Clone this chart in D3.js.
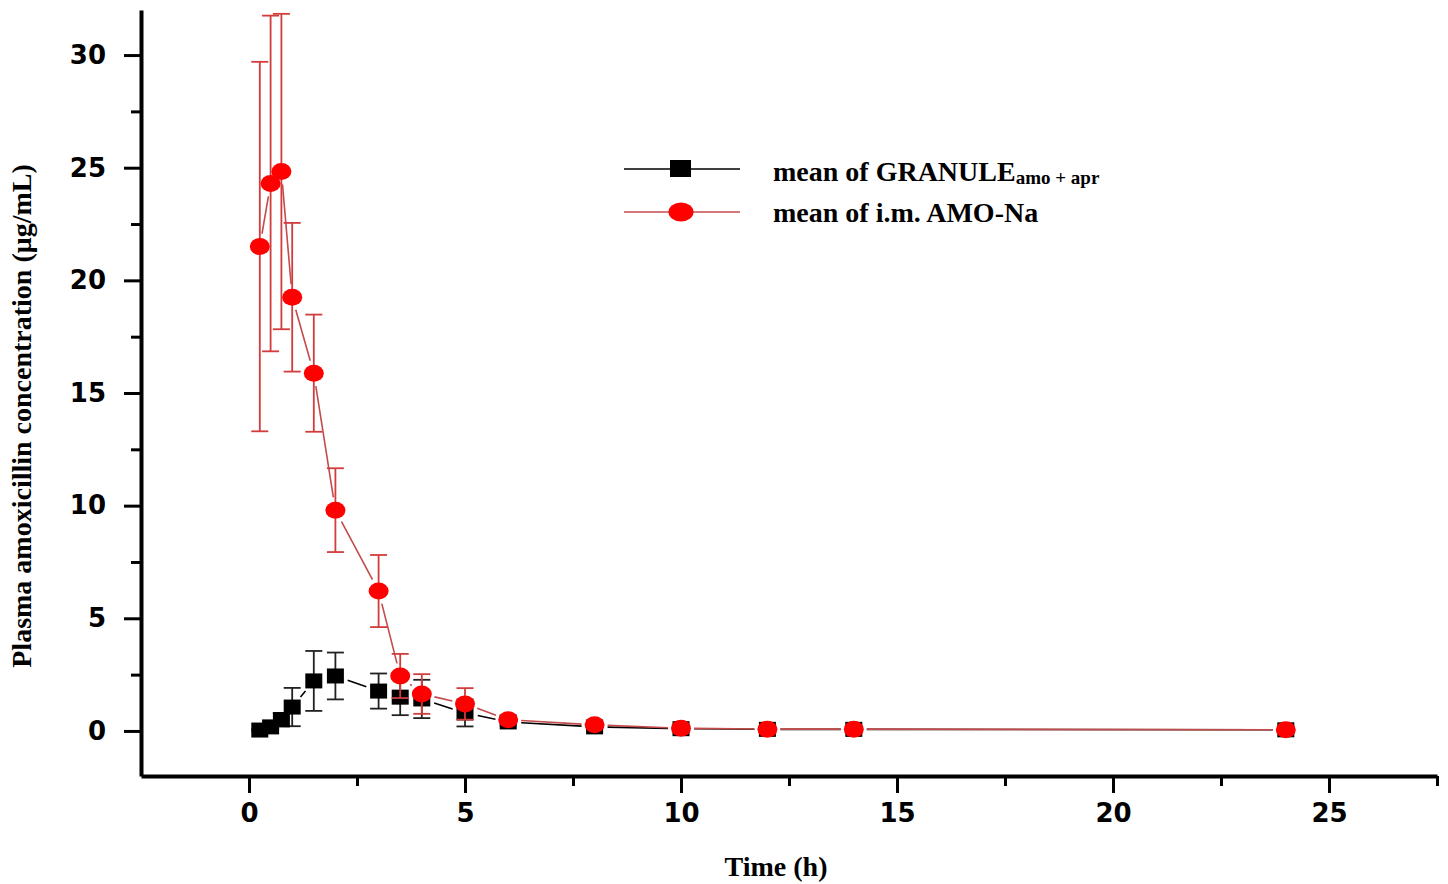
<!DOCTYPE html>
<html>
<head>
<meta charset="utf-8">
<script src="https://cdn.jsdelivr.net/npm/d3@7"></script>
<style>
  body { margin: 0; background: #fff; }
  svg { display: block; }
</style>
</head>
<body>
<div id="chart"></div>
<script>
// sampling times (h)
const times = [0.25, 0.5, 0.75, 1, 1.5, 2, 3, 3.5, 4, 5, 6, 8, 10, 12, 14, 24];

// mean of GRANULE amo + apr
const granuleMean = [0.04, 0.18, 0.5, 1.06, 2.22, 2.44, 1.77, 1.5, 1.42, 0.8, 0.4, 0.18, 0.1, 0.07, 0.07, 0.05];
const granuleSd = [0.05, 0.1, 0.3, 0.85, 1.33, 1.04, 0.78, 0.8, 0.85, 0.6, 0.15, 0.1, 0.05, 0.03, 0.03, 0.03];

// mean of i.m. AMO-Na
const amoMean = [21.5, 24.3, 24.83, 19.25, 15.88, 9.8, 6.21, 2.44, 1.64, 1.2, 0.5, 0.27, 0.12, 0.08, 0.08, 0.05];
const amoSd = [8.2, 7.45, 7.0, 3.3, 2.6, 1.86, 1.6, 0.98, 0.88, 0.7, 0.12, 0.08, 0.05, 0.03, 0.03, 0.03];

const xMajor = [0, 5, 10, 15, 20, 25];
const xMinor = [2.5, 7.5, 12.5, 17.5, 22.5, 27.5];
const yMajor = [0, 5, 10, 15, 20, 25, 30];
const yMinor = [2.5, 7.5, 12.5, 17.5, 22.5, 27.5];

const width = 1448;
const height = 884;

const x = d3.scaleLinear().domain([-2.5, 27.5]).range([141, 1437]);
const y = d3.scaleLinear().domain([-2, 32]).range([776, 10]);

const svg = d3.select('#chart')
  .append('svg')
  .attr('width', width)
  .attr('height', height);

const tickFont = '"DejaVu Sans", sans-serif';
const serif = '"Liberation Serif", "Times New Roman", serif';

// axes
svg.append('g')
  .attr('transform', `translate(0,${y(-2)})`)
  .call(d3.axisBottom(x).tickValues(xMajor).tickSize(17).tickPadding(11).tickSizeOuter(0));
svg.append('g')
  .attr('transform', `translate(0,${y(-2)})`)
  .call(d3.axisBottom(x).tickValues(xMinor).tickSize(10).tickFormat('').tickSizeOuter(0))
  .select('.domain').remove();

svg.append('g')
  .attr('transform', `translate(${x(-2.5)},0)`)
  .call(d3.axisLeft(y).tickValues(yMajor).tickSize(17).tickPadding(18).tickSizeOuter(0));
svg.append('g')
  .attr('transform', `translate(${x(-2.5)},0)`)
  .call(d3.axisLeft(y).tickValues(yMinor).tickSize(10).tickFormat('').tickSizeOuter(0))
  .select('.domain').remove();

svg.selectAll('.domain').attr('stroke', '#000').attr('stroke-width', 4);
svg.selectAll('.tick line').attr('stroke', '#000').attr('stroke-width', 3);
svg.selectAll('.tick text')
  .attr('fill', '#000')
  .style('font-family', tickFont)
  .style('font-weight', 'bold')
  .style('font-size', '26px');

// axis titles
svg.append('text')
  .attr('x', 776)
  .attr('y', 876)
  .attr('text-anchor', 'middle')
  .style('font-family', serif)
  .style('font-weight', 'bold')
  .style('font-size', '28px')
  .text('Time (h)');

svg.append('text')
  .attr('transform', 'translate(31,416) rotate(-90)')
  .attr('text-anchor', 'middle')
  .style('font-family', serif)
  .style('font-weight', 'bold')
  .style('font-size', '28px')
  .text('Plasma amoxicillin concentration (μg/mL)');

// line segments that stop short of the symbols
function gappedPath(xs, ys, gap) {
  let d = '';
  for (let i = 0; i < xs.length - 1; i++) {
    const x0 = x(xs[i]), y0 = y(ys[i]);
    const x1 = x(xs[i + 1]), y1 = y(ys[i + 1]);
    const dx = x1 - x0, dy = y1 - y0;
    const dist = Math.sqrt(dx * dx + dy * dy);
    if (dist <= 2 * gap) continue;
    const nx = dx / dist, ny = dy / dist;
    d += `M${x0 + nx * gap},${y0 + ny * gap}L${x1 - nx * gap},${y1 - ny * gap}`;
  }
  return d;
}

function drawSeries(means, sds, opts) {
  const g = svg.append('g');
  g.append('path')
    .attr('d', gappedPath(times, means, 13))
    .attr('fill', 'none')
    .attr('stroke', opts.line)
    .attr('stroke-width', 1.6);

  const capW = 8.5;
  const err = g.append('g')
    .attr('stroke', opts.err)
    .attr('stroke-width', 1.8)
    .selectAll('g')
    .data(times.map((t, i) => ({ t, m: means[i], s: sds[i] })))
    .join('g');
  err.append('line')
    .attr('x1', (d) => x(d.t)).attr('x2', (d) => x(d.t))
    .attr('y1', (d) => y(d.m - d.s)).attr('y2', (d) => y(d.m + d.s));
  err.append('line')
    .attr('x1', (d) => x(d.t) - capW).attr('x2', (d) => x(d.t) + capW)
    .attr('y1', (d) => y(d.m + d.s)).attr('y2', (d) => y(d.m + d.s));
  err.append('line')
    .attr('x1', (d) => x(d.t) - capW).attr('x2', (d) => x(d.t) + capW)
    .attr('y1', (d) => y(d.m - d.s)).attr('y2', (d) => y(d.m - d.s));

  const pts = times.map((t, i) => ({ t, m: means[i] }));
  if (opts.shape === 'square') {
    g.append('g').selectAll('rect')
      .data(pts)
      .join('rect')
      .attr('x', (d) => x(d.t) - 8.5)
      .attr('y', (d) => y(d.m) - 7.5)
      .attr('width', 17)
      .attr('height', 15)
      .attr('fill', opts.fill);
  } else {
    g.append('g').selectAll('ellipse')
      .data(pts)
      .join('ellipse')
      .attr('cx', (d) => x(d.t))
      .attr('cy', (d) => y(d.m))
      .attr('rx', 10)
      .attr('ry', 8.5)
      .attr('fill', opts.fill);
  }
}

drawSeries(granuleMean, granuleSd, { line: '#000', err: '#222', fill: '#000', shape: 'square' });
drawSeries(amoMean, amoSd, { line: '#c44b4b', err: '#d23c3c', fill: '#ff0000', shape: 'circle' });

// legend
const legend = svg.append('g');
legend.append('line')
  .attr('x1', 624).attr('x2', 740).attr('y1', 169).attr('y2', 169)
  .attr('stroke', '#000').attr('stroke-width', 1.6);
legend.append('rect')
  .attr('x', 670).attr('y', 160).attr('width', 21).attr('height', 17)
  .attr('fill', '#000');
legend.append('line')
  .attr('x1', 624).attr('x2', 740).attr('y1', 212).attr('y2', 212)
  .attr('stroke', '#c44b4b').attr('stroke-width', 1.6);
legend.append('ellipse')
  .attr('cx', 681).attr('cy', 212).attr('rx', 12.5).attr('ry', 9.5)
  .attr('fill', '#ff0000');

const label1 = legend.append('text')
  .attr('x', 773).attr('y', 181)
  .style('font-family', serif)
  .style('font-weight', 'bold')
  .style('font-size', '28px');
label1.append('tspan').text('mean of GRANULE');
label1.append('tspan')
  .attr('dy', 3)
  .style('font-size', '19px')
  .text('amo + apr');

legend.append('text')
  .attr('x', 773).attr('y', 222)
  .style('font-family', serif)
  .style('font-weight', 'bold')
  .style('font-size', '28px')
  .text('mean of i.m. AMO-Na');
</script>
</body>
</html>
